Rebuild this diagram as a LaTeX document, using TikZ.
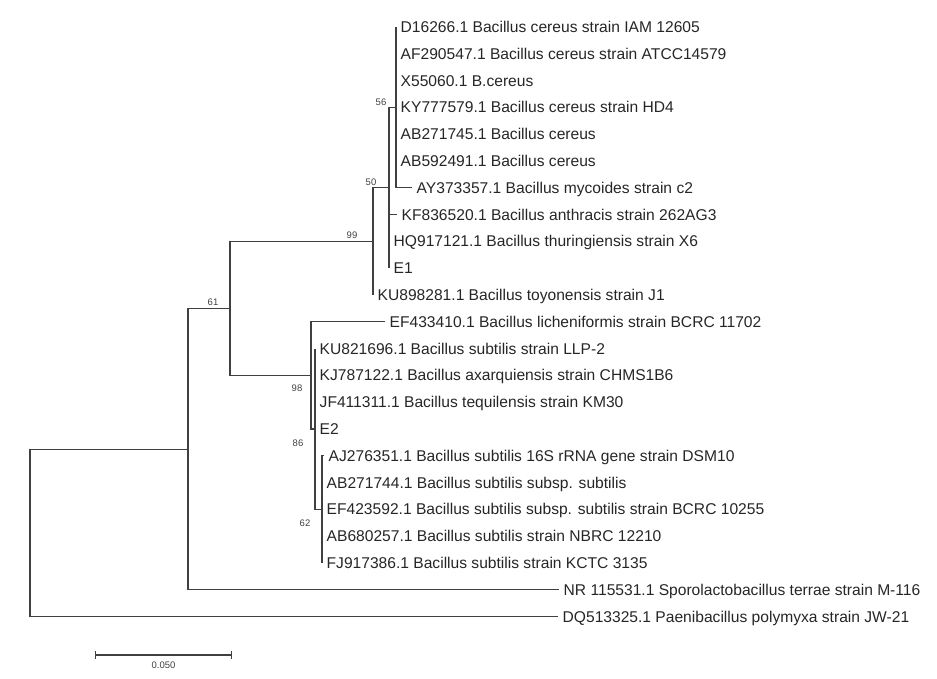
\documentclass[tikz,border=0pt]{standalone}
\usepackage{fontspec}
\setmainfont{Liberation Sans}
\usetikzlibrary{positioning,calc,arrows.meta}

\begin{document}
\begin{tikzpicture}[
    x=1pt, y=-1pt,
    branch/.style={
        draw=black!75,
        line width=1.1pt
    },
    taxon/.style={
        anchor=west,
        inner xsep=4.5pt,
        inner ysep=0pt,
        text height=13pt,
        text depth=2pt,
        text=black!85,
        font=\fontsize{15.6}{18}\selectfont
    },
    boot/.style={
        inner sep=0pt,
        text=black!75,
        font=\fontsize{9.5}{10}\selectfont
    }
]
\useasboundingbox (0,0) rectangle (937,678);

% internal nodes of the tree
\coordinate (root) at (30,532.9);
\coordinate (inner) at (188,449.1);
\coordinate (b61) at (230,308.4);
\coordinate (b99) at (373,241.4);
\coordinate (b50) at (389,187.8);
\coordinate (b56) at (396,107.4);
\coordinate (b98) at (311,375.4);
\coordinate (b86) at (315,429.0);
\coordinate (b62) at (322,509.4);

% cereus group
\node[taxon] (d16266) at (396,27.0) {D16266.1 Bacillus cereus strain IAM 12605};
\node[taxon] (af290547) at (396,53.8) {AF290547.1 Bacillus cereus strain ATCC14579};
\node[taxon] (x55060) at (396,80.6) {X55060.1 B.cereus};
\node[taxon] (ky777579) at (396,107.4) {KY777579.1 Bacillus cereus strain HD4};
\node[taxon] (ab271745) at (396,134.2) {AB271745.1 Bacillus cereus};
\node[taxon] (ab592491) at (396,161.0) {AB592491.1 Bacillus cereus};
\node[taxon] (ay373357) at (412,187.8) {AY373357.1 Bacillus mycoides strain c2};
\node[taxon] (kf836520) at (397,214.6) {KF836520.1 Bacillus anthracis strain 262AG3};
\node[taxon] (hq917121) at (389,241.4) {HQ917121.1 Bacillus thuringiensis strain X6};
\node[taxon] (e1) at (389,268.2) {E1};
\node[taxon] (ku898281) at (373,295.0) {KU898281.1 Bacillus toyonensis strain J1};

% subtilis group
\node[taxon] (ef433410) at (385,321.8) {EF433410.1 Bacillus licheniformis strain BCRC 11702};
\node[taxon] (ku821696) at (315,348.6) {KU821696.1 Bacillus subtilis strain LLP-2};
\node[taxon] (kj787122) at (315,375.4) {KJ787122.1 Bacillus axarquiensis strain CHMS1B6};
\node[taxon] (jf411311) at (315,402.2) {JF411311.1 Bacillus tequilensis strain KM30};
\node[taxon] (e2) at (315,429.0) {E2};
\node[taxon] (aj276351) at (324,455.8) {AJ276351.1 Bacillus subtilis 16S rRNA gene strain DSM10};
\node[taxon] (ab271744) at (322,482.6) {AB271744.1 Bacillus subtilis subsp. subtilis};
\node[taxon] (ef423592) at (322,509.4) {EF423592.1 Bacillus subtilis subsp. subtilis strain BCRC 10255};
\node[taxon] (ab680257) at (322,536.2) {AB680257.1 Bacillus subtilis strain NBRC 12210};
\node[taxon] (fj917386) at (322,563.0) {FJ917386.1 Bacillus subtilis strain KCTC 3135};

% outgroups
\node[taxon] (nr115531) at (559,589.8) {NR 115531.1 Sporolactobacillus terrae strain M-116};
\node[taxon] (dq513325) at (558,616.6) {DQ513325.1 Paenibacillus polymyxa strain JW-21};

% branches
\draw[branch] (root) |- (inner);
\draw[branch] (root) |- (dq513325.west);
\draw[branch] (inner) |- (b61);
\draw[branch] (inner) |- (nr115531.west);
\draw[branch] (b61) |- (b99);
\draw[branch] (b61) |- (b98);
\draw[branch] (b99) |- (b50);
\draw[branch] (b99) |- (ku898281.west);
\draw[branch] (b50) |- (b56);
\draw[branch] (b50) |- (kf836520.west);
\draw[branch] (b50) |- (e1.west);
\draw[branch] (b56) |- (d16266.west);
\draw[branch] (b56) |- (ay373357.west);
\draw[branch] (b98) |- (ef433410.west);
\draw[branch] (b98) |- (b86);
\draw[branch] (b86) |- (ku821696.west);
\draw[branch] (b86) |- (b62);
\draw[branch] (b62) |- (aj276351.west);
\draw[branch] (b62) |- (fj917386.west);

% bootstrap values
\node[boot] (l56) at (381,102) {56};
\node[boot] (l50) at (371,182) {50};
\node[boot] (l99) at (352,235) {99};
\node[boot] (l61) at (213,302) {61};
\node[boot] (l98) at (297,388) {98};
\node[boot] (l86) at (298,443) {86};
\node[boot] (l62) at (305,523) {62};

% scale bar
\coordinate (sbl) at (95,655);
\coordinate (sbr) at (232,655);
\draw[branch, {Bar[width=8pt]}-{Bar[width=8pt]}] (sbl) -- (sbr);
\node[boot, below=7pt of $(sbl)!0.5!(sbr)$] (sblabel) {0.050};

\end{tikzpicture}
\end{document}
